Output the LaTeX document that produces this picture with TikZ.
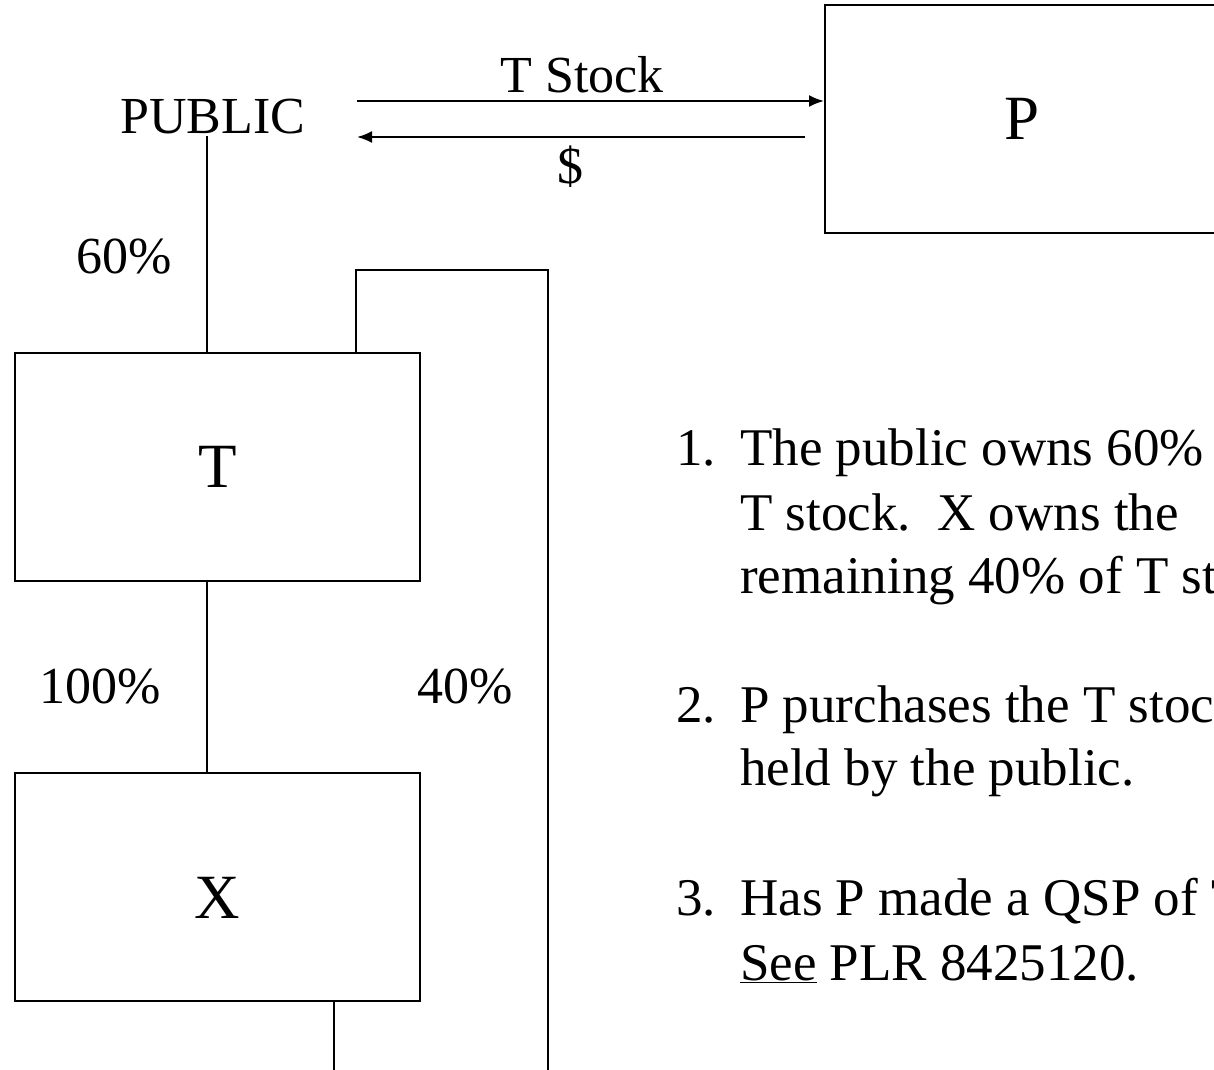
\documentclass[tikz,border=0pt]{standalone}
\usepackage{fontspec}
\setmainfont{Liberation Serif}
\usetikzlibrary{arrows.meta}
\begin{document}
\begin{tikzpicture}[
    x=1pt, y=-1pt,
    entity/.style={draw,line width=2pt,minimum width=405pt,minimum height=228pt,inner sep=0pt,font=\fontsize{63}{63}\selectfont},
    tag/.style={inner sep=2pt,anchor=base,font=\fontsize{52}{52}\selectfont},
    item/.style={inner sep=0pt,anchor=base west,font=\fontsize{53}{64}\selectfont},
    link/.style={line width=2.5pt},
    flow/.style={line width=2pt,-{Latex[length=15pt,width=12pt]}}
]
\useasboundingbox (0,0) rectangle (1214,1069);
\clip (0,0) rectangle (1214,1069);

% entities
\node[entity] (T) at (217.5,467) {T};
\node[entity,text height=62pt] (X) at (217.5,887) {X};
\node[entity,minimum width=394pt] (P) at (1022,119) {P};
\node[tag] (PUBLIC) at (213,133) {PUBLIC};

% exchange between public and P
\coordinate (aL) at (357,101);
\coordinate (bR) at (805,137);
\draw[flow] (aL) -- (aL -| P.west);
\draw[flow] (bR) -- (bR -| aL);
\node[tag] (stock) at (582,92) {T Stock};
\node[tag] (cash) at (570,183) {\$};

% ownership lines
\coordinate (rA) at (356,270);
\coordinate (rB) at (548,270);
\coordinate (rEnd) at (548,1075);
\coordinate (xDown) at (334,1075);
\draw[link] ([xshift=-10.5pt]T.north) -- ([xshift=-10.5pt]T.north |- PUBLIC.south);
\draw[link] ([xshift=-10.5pt]T.south) -- ([xshift=-10.5pt]X.north);
\draw[link] (T.north -| rA) -- (rA) -- (rB) -- (rEnd);
\draw[link] (X.south -| xDown) -- (xDown);
\node[tag] (own60) at (124,273) {60\%};
\node[tag] (own100) at (100,703) {100\%};
\node[tag] (own40) at (465,703) {40\%};

% facts
\node[item] (n1) at (676,465) {1.};
\node[item] (l1a) at (740,465) {The public owns 60\%};
\node[item] (l1b) at (740,530) {T stock.\ \ X owns the};
\node[item] (l1c) at (740,593) {remaining 40\% of T stock};
\node[item] (n2) at (676,722) {2.};
\node[item] (l2a) at (740,722) {P purchases the T stock};
\node[item] (l2b) at (740,785) {held by the public.};
\node[item] (n3) at (676,915) {3.};
\node[item] (l3a) at (740,915) {Has P made a QSP of T};
\node[item] (l3b) at (740,980) {\underline{See} PLR 8425120.};
\end{tikzpicture}
\end{document}
